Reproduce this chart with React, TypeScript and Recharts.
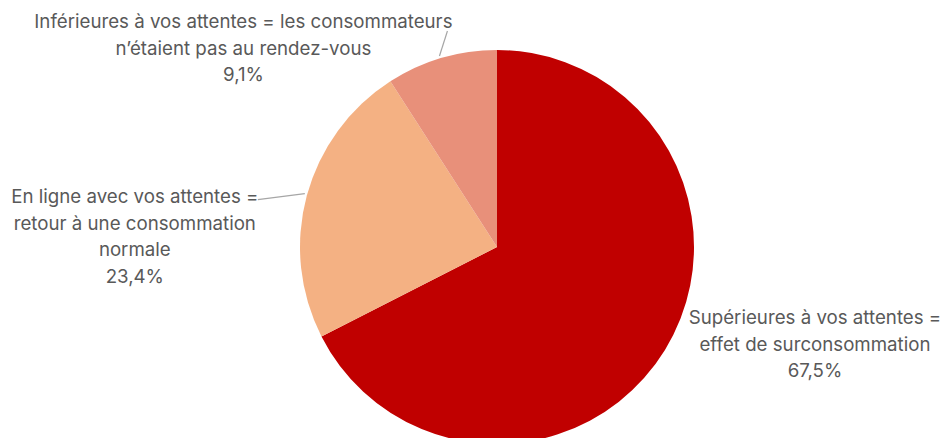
import React from "react";
import { PieChart, Pie, Cell } from "recharts";

const categories = [
  "Supérieures à vos attentes = effet de surconsommation",
  "En ligne avec vos attentes = retour à une consommation normale",
  "Inférieures à vos attentes = les consommateurs n’étaient pas au rendez-vous",
];
const values = [67.5, 23.4, 9.1];
const labelLines = [
  ["Supérieures à vos attentes =", "effet de surconsommation", "67,5%"],
  ["En ligne avec vos attentes =", "retour à une consommation", "normale", "23,4%"],
  ["Inférieures à vos attentes = les consommateurs", "n’étaient pas au rendez-vous", "9,1%"],
];
const colors = ["#C00000", "#F4B183", "#E8907A"];

const data = categories.map((name, i) => ({ name, value: values[i] }));

// label layout: text centre offset relative to slice edge point, optional leader line
const layout = [
  { dx: 150, dy: -32, leader: null as null | { x: number; y: number } },
  { dx: -172, dy: 1, leader: { x: -49, y: 4 } },
  { dx: -198, dy: -36, leader: { x: 6, y: -27 } },
];

const RAD = Math.PI / 180;
const LH = 26.5;

const renderLabel = (props: any) => {
  const { cx, cy, midAngle, outerRadius, index } = props;
  const ex = cx + outerRadius * Math.cos(-midAngle * RAD);
  const ey = cy + outerRadius * Math.sin(-midAngle * RAD);
  const cfg = layout[index];
  const lines = labelLines[index];
  const tx = ex + cfg.dx;
  const ty = ey + cfg.dy;
  return (
    <g key={`lbl-${index}`}>
      {cfg.leader && (
        <line
          x1={ex - 2}
          y1={ey - 2}
          x2={ex + cfg.leader.x}
          y2={ey + cfg.leader.y}
          stroke="#A6A6A6"
          strokeWidth={1.2}
        />
      )}
      <text
        x={tx}
        y={ty}
        textAnchor="middle"
        fill="#595959"
        fontSize={18.7}
        fontFamily="Inter, 'Noto Sans', sans-serif"
      >
        {lines.map((l, i) => (
          <tspan key={i} x={tx} y={ty + i * LH} dominantBaseline="central">
            {l}
          </tspan>
        ))}
      </text>
    </g>
  );
};

export default function App() {
  return (
    <div style={{ position: "absolute", left: 0, top: 0, background: "#fff" }}>
      <PieChart width={947} height={438} margin={{ top: 0, right: 0, bottom: 0, left: 0 }}>
        <Pie
          data={data}
          dataKey="value"
          nameKey="name"
          cx={497}
          cy={247}
          outerRadius={197}
          startAngle={90}
          endAngle={-270}
          stroke="none"
          label={renderLabel}
          labelLine={false}
          isAnimationActive={false}
        >
          {data.map((d, i) => (
            <Cell key={d.name} fill={colors[i]} />
          ))}
        </Pie>
      </PieChart>
    </div>
  );
}
